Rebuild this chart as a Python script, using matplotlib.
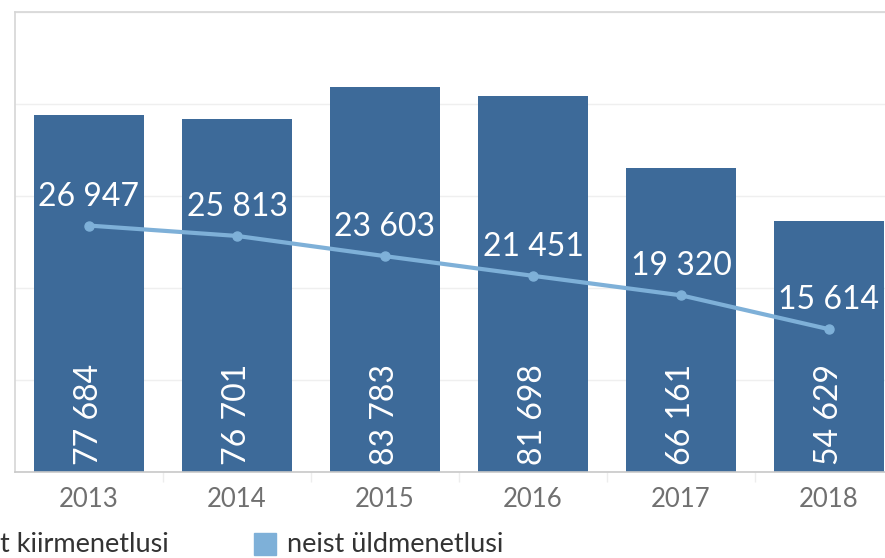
import matplotlib
matplotlib.use("Agg")
import matplotlib.pyplot as plt
from matplotlib.patches import Rectangle

years = ["2013", "2014", "2015", "2016", "2017", "2018"]
bar_values = [77684, 76701, 83783, 81698, 66161, 54629]
line_values = [26947, 25813, 23603, 21451, 19320, 15614]
legend_labels = ["t kiirmenetlusi", "neist üldmenetlusi"]

BAR_COLOR = "#3d6a99"
LINE_COLOR = "#7eb0d8"
FONT = ["Lato", "DejaVu Sans"]

def fmt(v):
    return f"{v:,}".replace(",", " ")

W, H = 885, 558
fig = plt.figure(figsize=(W / 100, H / 100), dpi=100)
plt.rcParams["font.family"] = FONT

left = 15 / W
bottom = (H - 472) / H
top = (H - 12) / H
ax = fig.add_axes([left, bottom, 888 / W, top - bottom])
x = list(range(len(years)))
ax.bar(x, bar_values, width=0.743, color=BAR_COLOR, zorder=2)
ax.set_xlim(-0.5, len(years) - 0.5)
ax.set_ylim(0, 100000)
ax.set_yticks([0, 20000, 40000, 60000, 80000, 100000])
ax.set_yticklabels([])
ax.tick_params(axis="y", length=0)
ax.grid(axis="y", color="#efefef", linewidth=1, zorder=0)
ax.set_axisbelow(True)
ax.set_xticks(x)
ax.set_xticklabels(years, fontsize=18.5, color="#707070")
ax.tick_params(axis="x", length=0, pad=11)
ax.set_xticks([i + 0.5 for i in x[:-1]], minor=True)
ax.tick_params(axis="x", which="minor", length=7, color="#ededed", width=1)
for s in ["left", "top", "right"]:
    ax.spines[s].set_color("#d6d6d6")
    ax.spines[s].set_linewidth(1.2)
ax.spines["bottom"].set_color("#c8c8c8")
ax.spines["bottom"].set_linewidth(1.2)

for xi, v in zip(x, bar_values):
    ax.annotate(fmt(v), (xi, 0), xytext=(0, 7), textcoords="offset pixels",
                rotation=90, ha="center", va="bottom", color="white",
                fontsize=23, zorder=5)

ax2 = ax.twinx()
ax2.set_position(ax.get_position())
ax2.set_ylim(0, 50300)
ax2.set_xlim(ax.get_xlim())
ax2.axis("off")
ax2.plot(x, line_values, color=LINE_COLOR, linewidth=3, marker="o",
         markersize=6.5, zorder=3)
for xi, v in zip(x, line_values):
    ax2.annotate(fmt(v), (xi, v), xytext=(0, 29), textcoords="offset pixels",
                 ha="center", va="center", color="white", fontsize=23, zorder=5)

# legend (cut off on the left, as in the reference)
fig.text(0 / W, 1 - 545 / H, legend_labels[0], fontsize=19.5, color="#333333",
         ha="left", va="center")
fig.patches.append(Rectangle((254 / W, 1 - 555 / H), 22 / W, 22 / H,
                             transform=fig.transFigure, color=LINE_COLOR,
                             figure=fig))
fig.text(287 / W, 1 - 545 / H, legend_labels[1], fontsize=19.5, color="#333333",
         ha="left", va="center")

fig.savefig("out.png", dpi=100)
